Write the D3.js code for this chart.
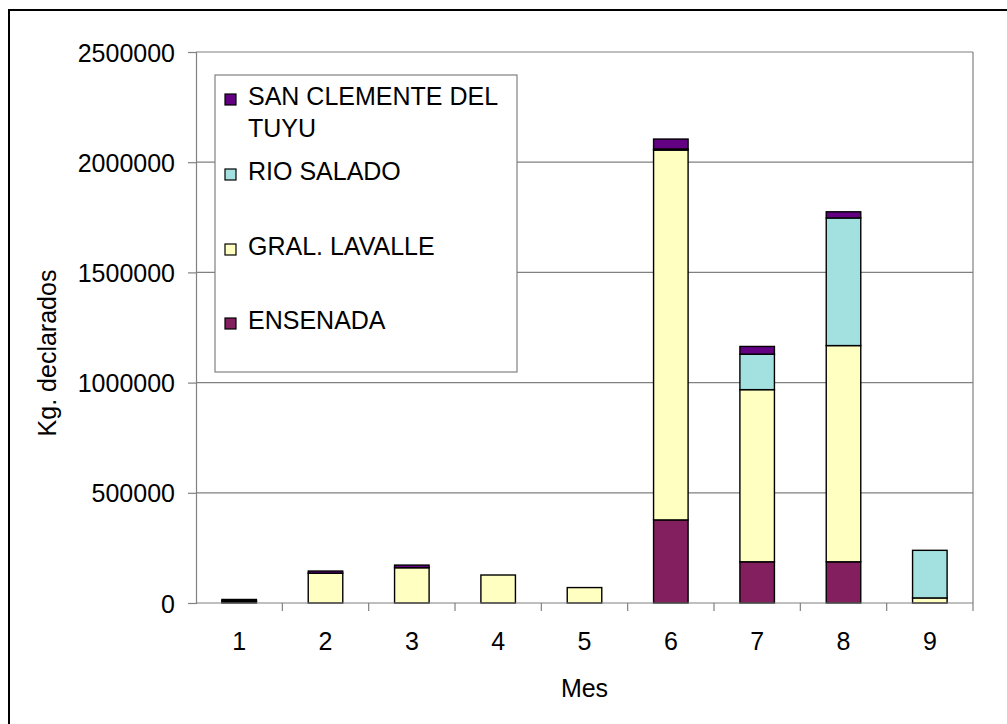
<!DOCTYPE html>
<html>
<head>
<meta charset="utf-8">
<script src="https://cdn.jsdelivr.net/npm/d3@7"></script>
<style>
  body { margin: 0; background: #fff; }
  svg text { font-family: 'Liberation Sans', Arial, sans-serif; fill: #000; }
</style>
</head>
<body>
<svg id="chart" width="1007" height="724"></svg>
<script>
const months = ['1', '2', '3', '4', '5', '6', '7', '8', '9'];
const ensenada = [5000, 0, 0, 0, 0, 377000, 187000, 187000, 0];
const gralLavalle = [5000, 135000, 160000, 127000, 70000, 1678000, 781000, 981000, 23000];
const rioSalado = [0, 0, 0, 0, 0, 5000, 161000, 579000, 216000];
const sanClemente = [6000, 10000, 12000, 0, 0, 45000, 35000, 28000, 0];
const yTicks = [0, 500000, 1000000, 1500000, 2000000, 2500000];

// stacking order, bottom first
const series = [
  { name: 'ENSENADA', values: ensenada, color: '#841f5f' },
  { name: 'GRAL. LAVALLE', values: gralLavalle, color: '#ffffc2' },
  { name: 'RIO SALADO', values: rioSalado, color: '#a3e0e0' },
  { name: 'SAN CLEMENTE DEL TUYU', values: sanClemente, color: '#640082' },
];

const dim = { left: 196, right: 973, top: 52, bottom: 603 };
const svg = d3.select('#chart');

// outer chart frame (right/bottom edges run off the picture)
svg.append('rect')
  .attr('x', 9).attr('y', 10)
  .attr('width', 1010).attr('height', 730)
  .style('fill', '#fff')
  .style('stroke', '#000')
  .style('stroke-width', 2);

const x = d3.scaleBand().domain(months).range([dim.left, dim.right]);
const y = d3.scaleLinear().domain([0, 2500000]).range([dim.bottom, dim.top]);

// gridlines
svg.append('g')
  .selectAll('line')
  .data(yTicks.slice(1))
  .join('line')
  .attr('x1', dim.left).attr('x2', dim.right)
  .attr('y1', (d) => y(d)).attr('y2', (d) => y(d))
  .style('stroke', '#808080')
  .style('stroke-width', 1.2);

// plot area right edge
svg.append('line')
  .attr('x1', dim.right).attr('x2', dim.right)
  .attr('y1', dim.top).attr('y2', dim.bottom)
  .style('stroke', '#808080')
  .style('stroke-width', 1.2);

// bars
const rows = months.map((m, i) => {
  const row = { month: m };
  series.forEach((s) => { row[s.name] = s.values[i]; });
  return row;
});
const stacked = d3.stack().keys(series.map((s) => s.name))(rows);
const barW = x.bandwidth() * 0.4;

svg.append('g')
  .selectAll('g')
  .data(stacked)
  .join('g')
  .style('fill', (d, i) => series[i].color)
  .selectAll('rect')
  .data((d) => d.filter((p) => p[1] > p[0]))
  .join('rect')
  .attr('x', (d) => x(d.data.month) + (x.bandwidth() - barW) / 2)
  .attr('width', barW)
  .attr('y', (d) => y(d[1]))
  .attr('height', (d) => y(d[0]) - y(d[1]))
  .style('stroke', '#000')
  .style('stroke-width', 1.4);

// y axis
const yAxis = svg.append('g')
  .attr('transform', `translate(${dim.left},0)`)
  .call(d3.axisLeft(y).tickValues(yTicks).tickSize(8).tickPadding(13).tickFormat(d3.format('d')));
yAxis.select('.domain').style('stroke', '#808080').style('stroke-width', 1.2);
yAxis.selectAll('.tick line').style('stroke', '#808080').style('stroke-width', 1.2);
yAxis.selectAll('.tick text').style('font-size', '25px').attr('dy', '0.36em');

// x axis: ticks between categories
const xAxis = svg.append('g')
  .attr('transform', `translate(0,${dim.bottom})`);
xAxis.append('line')
  .attr('x1', dim.left).attr('x2', dim.right)
  .style('stroke', '#808080').style('stroke-width', 1.2);
xAxis.selectAll('line.tick')
  .data(months.slice(1).concat(['end']))
  .join('line')
  .attr('class', 'tick')
  .attr('x1', (d) => (d === 'end' ? dim.right : x(d)))
  .attr('x2', (d) => (d === 'end' ? dim.right : x(d)))
  .attr('y1', 0).attr('y2', 8)
  .style('stroke', '#808080').style('stroke-width', 1.2);
xAxis.selectAll('text')
  .data(months)
  .join('text')
  .attr('x', (d) => x(d) + x.bandwidth() / 2)
  .attr('y', 47)
  .style('text-anchor', 'middle')
  .style('font-size', '25px')
  .text((d) => d);

// axis titles
svg.append('text')
  .attr('x', (dim.left + dim.right) / 2)
  .attr('y', 697)
  .style('text-anchor', 'middle')
  .style('font-size', '25px')
  .text('Mes');

svg.append('text')
  .attr('transform', 'translate(56,353) rotate(-90)')
  .style('text-anchor', 'middle')
  .style('font-size', '25px')
  .text('Kg. declarados');

// legend
const legend = svg.append('g').attr('transform', 'translate(215,75)');
legend.append('rect')
  .attr('width', 302).attr('height', 297)
  .style('fill', '#fff')
  .style('stroke', '#808080')
  .style('stroke-width', 1.2);

const legendItems = [
  { s: series[3], lines: ['SAN CLEMENTE DEL', 'TUYU'], y: 30 },
  { s: series[2], lines: ['RIO SALADO'], y: 105 },
  { s: series[1], lines: ['GRAL. LAVALLE'], y: 180 },
  { s: series[0], lines: ['ENSENADA'], y: 254 },
];

const items = legend.selectAll('g.item')
  .data(legendItems)
  .join('g')
  .attr('class', 'item')
  .attr('transform', (d) => `translate(0,${d.y})`);

items.append('rect')
  .attr('x', 10).attr('y', -11)
  .attr('width', 11).attr('height', 11)
  .style('fill', (d) => d.s.color)
  .style('stroke', '#000')
  .style('stroke-width', 1.2);

items.append('text')
  .attr('x', 33)
  .style('font-size', '25px')
  .selectAll('tspan')
  .data((d) => d.lines)
  .join('tspan')
  .attr('x', 33)
  .attr('dy', (d, i) => (i === 0 ? 0 : 32))
  .text((d) => d);
</script>
</body>
</html>
